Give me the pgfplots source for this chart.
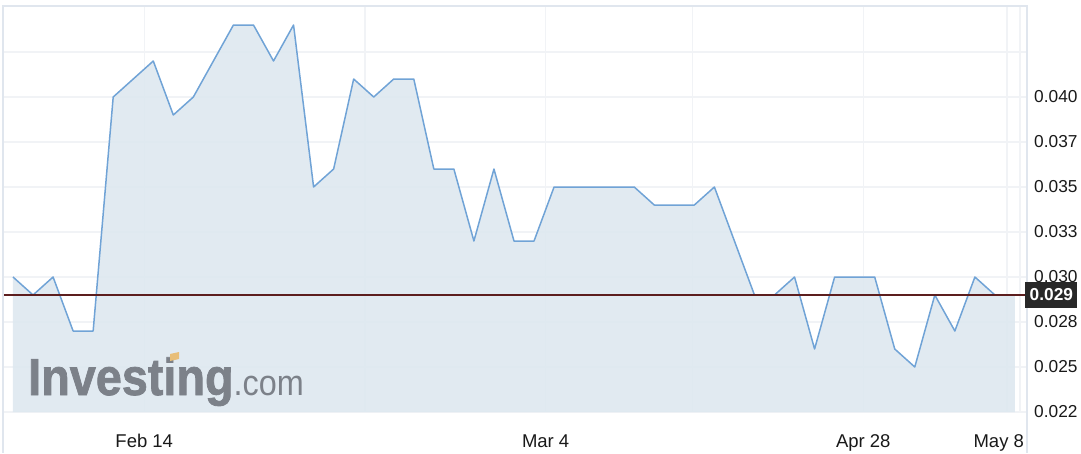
\documentclass[border=0pt]{standalone}
\usepackage{graphicx}
\usepackage{pgfplots}
\pgfplotsset{compat=1.18}
\usepackage{pgfplotstable}
\usepackage{fontspec}
\setmainfont{Liberation Sans}
\newfontfamily\logofont{Liberation Sans}[BoldFeatures={FakeBold=1.5}]
\definecolor{linec}{RGB}{112,163,214}
\definecolor{fillc}{RGB}{222,232,240}
\definecolor{gridc}{RGB}{241,243,246}
\definecolor{framec}{RGB}{224,230,238}
\definecolor{refc}{RGB}{92,30,30}
\definecolor{logoc}{RGB}{124,129,137}
\definecolor{boxc}{RGB}{40,40,40}
\definecolor{logoacc}{RGB}{232,190,120}

\pgfplotstableread{
x y
0 0.030
1 0.029
2 0.030
3 0.027
4 0.027
5 0.040
6 0.041
7 0.042
8 0.039
9 0.040
10 0.042
11 0.044
12 0.044
13 0.042
14 0.044
15 0.035
16 0.036
17 0.041
18 0.040
19 0.041
20 0.041
21 0.036
22 0.036
23 0.032
24 0.036
25 0.032
26 0.032
27 0.035
28 0.035
29 0.035
30 0.035
31 0.035
32 0.034
33 0.034
34 0.034
35 0.035
36 0.032
37 0.029
38 0.029
39 0.030
40 0.026
41 0.030
42 0.030
43 0.030
44 0.026
45 0.025
46 0.029
47 0.027
48 0.030
49 0.029
}\pricedata

\begin{document}
\begin{tikzpicture}[x=1pt,y=1pt]
\path[use as bounding box] (0,0) rectangle (1081,453);
\begin{axis}[
  at={(3pt,41pt)}, anchor=south west,
  scale only axis, width=1024pt, height=406pt,
  xmin=-0.499, xmax=50.6,
  ymin=0.0225, ymax=0.045056,
  clip=false,
  axis line style={draw=none},
  major tick length=0pt,
  ytick={0.0225,0.025,0.0275,0.03,0.0325,0.035,0.0375,0.04},
  yticklabels={0.022,0.025,0.028,0.030,0.033,0.035,0.037,0.040},
  extra y ticks={0.0425},
  extra y tick labels={},
  extra y tick style={grid=major},
  ymajorgrids,
  yticklabel pos=right,
  yticklabel style={anchor=west, inner sep=0pt, xshift=7pt, text=black!90,
    font=\fontsize{17.3}{20}\selectfont},
  xtick={6.55,26.58,42.43,49.19},
  xticklabels={Feb 14,Mar 4,Apr 28,May 8},
  xmajorgrids=false,
  extra x ticks={6.55,17.56,26.58,33.9,42.43,49.59,50.25},
  extra x tick labels={},
  extra x tick style={grid=major},
  xticklabel style={anchor=base, yshift=-35pt, text=black!90,
    font=\fontsize{18.5}{21}\selectfont},
  grid style={gridc, line width=1.5pt},
]
% area
\addplot[draw=none, fill=fillc, fill opacity=0.9] coordinates {
(0,0.0225) (0,0.030) (1,0.029) (2,0.030) (3,0.027) (4,0.027) (5,0.040)
(6,0.041) (7,0.042) (8,0.039) (9,0.040) (10,0.042) (11,0.044) (12,0.044)
(13,0.042) (14,0.044) (15,0.035) (16,0.036) (17,0.041) (18,0.040) (19,0.041)
(20,0.041) (21,0.036) (22,0.036) (23,0.032) (24,0.036) (25,0.032) (26,0.032)
(27,0.035) (28,0.035) (29,0.035) (30,0.035) (31,0.035) (32,0.034) (33,0.034)
(34,0.034) (35,0.035) (36,0.032) (37,0.029) (38,0.029) (39,0.030) (40,0.026)
(41,0.030) (42,0.030) (43,0.030) (44,0.026) (45,0.025) (46,0.029) (47,0.027)
(48,0.030) (49,0.029) (50,0.029) (50,0.0225)} -- cycle;
% price line
\addplot[linec, line width=1.5pt, line join=round] table {\pricedata};
% reference line
\addplot[refc, line width=1.6pt] coordinates {(-0.499,0.029) (50.6,0.029)};
% frame
\draw[framec, line width=2pt] ([yshift=-41pt]rel axis cs:0,0) -- (rel axis cs:0,1) -- (rel axis cs:1,1) -- ([yshift=-41pt]rel axis cs:1,0);
% last value box
\node[fill=boxc, text=white, anchor=west, inner xsep=4.5pt, inner ysep=0pt,
  minimum height=26pt, xshift=-2pt, font=\fontsize{17.3}{20}\selectfont\bfseries]
  at (axis cs:50.6,0.029) {0.029};
\end{axis}
% watermark
\node[anchor=base west, inner sep=0pt, text=logoc] at (28,58)
  {\scalebox{0.9}[1]{\logofont\fontsize{52}{56}\selectfont\bfseries Investing\fontsize{36}{40}\mdseries .com}};
\fill[logoacc] (170,92) -- (179,94) -- (179,101) -- (170,99) -- cycle;
\end{tikzpicture}
\end{document}
